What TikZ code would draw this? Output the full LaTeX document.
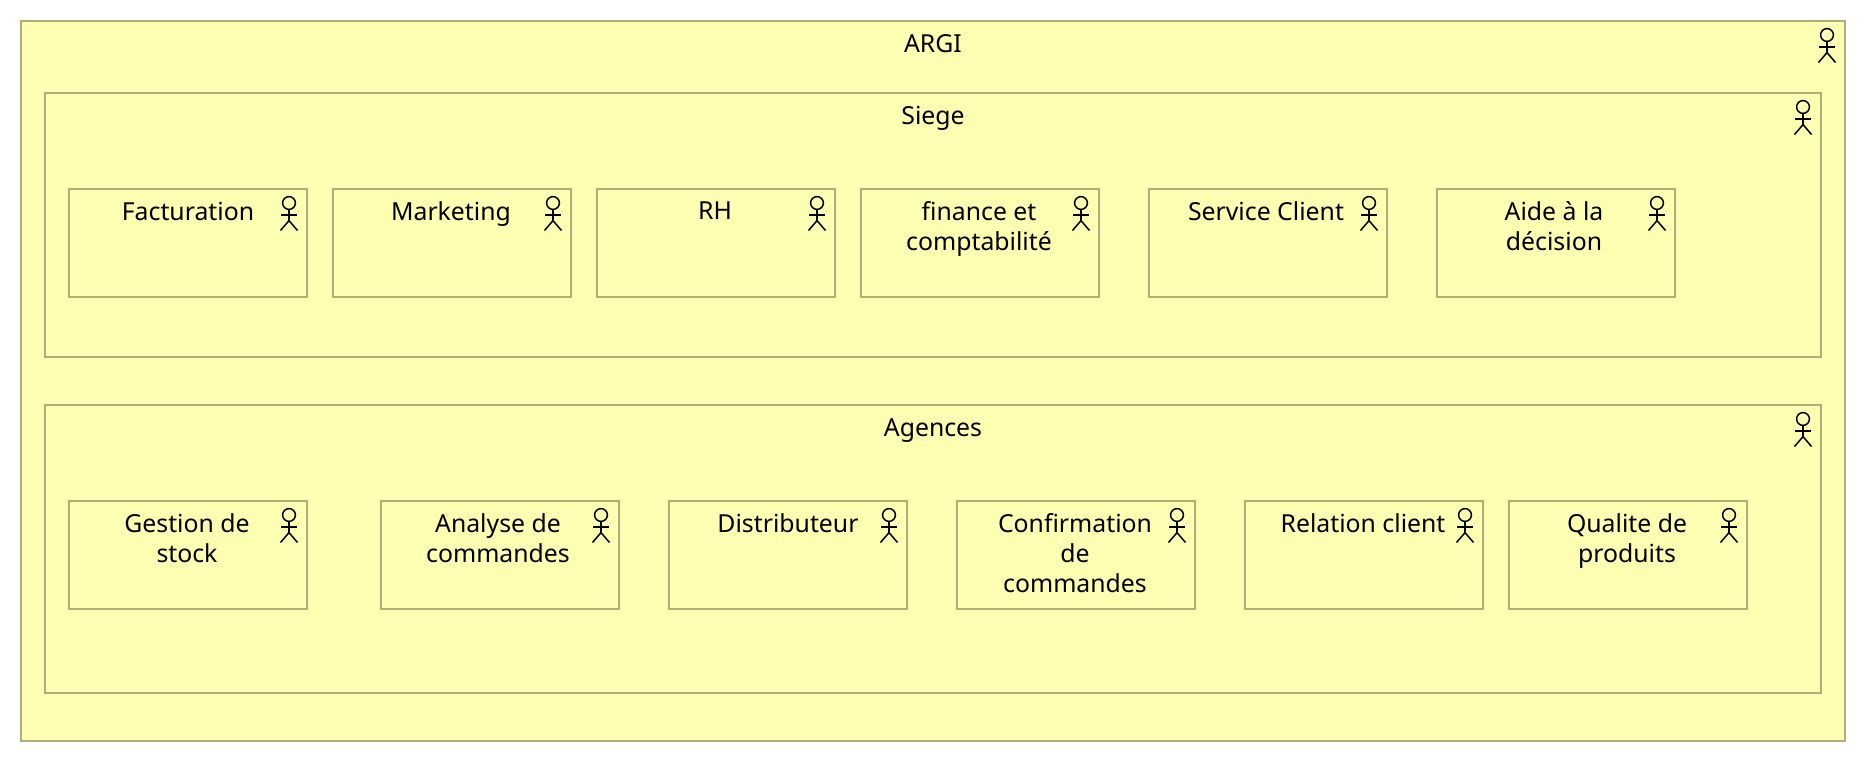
\documentclass[tikz,border=0pt]{standalone}
\usepackage{fontspec}
\setmainfont{Noto Sans}
\definecolor{boxfill}{HTML}{FEFEB2}
\definecolor{boxline}{HTML}{AEAE75}
\newcommand{\actor}[2]{%
  \begin{scope}[shift={(#1,#2)},black,line width=1.5pt,fill=none]
    \draw (0,0) circle (6.4);
    \draw (0,6.4) -- (0,17.6);
    \draw (-8,12) -- (8,12);
    \draw (-8.5,27.5) -- (0,17.6) -- (8.5,27.5);
  \end{scope}}
\newcommand{\abox}[5]{% name x y w h
  \node[abox,minimum width=#4pt,minimum height=#5pt,anchor=north west] (#1) at (#2,#3) {};
  \actor{#2+#4-18}{#3+14}
}
\tikzset{
  abox/.style={draw=boxline,fill=boxfill,line width=2.4pt,inner sep=0pt,outer sep=0pt,rectangle},
  lbl/.style={inner sep=0pt,outer sep=0pt,align=center,anchor=north,text=black,font=\fontsize{24.8pt}{30pt}\selectfont}
}
\begin{document}
\begin{tikzpicture}[x=1pt,y=-1pt]
\useasboundingbox (0,0) rectangle (1866,762);
\abox{argi}{21}{21}{1824}{720}
\abox{siege}{45}{93}{1776}{264}
\abox{agences}{45}{405}{1776}{288}
\abox{fact}{69}{189}{238}{108}
\abox{mark}{333}{189}{238}{108}
\abox{rh}{597}{189}{238}{108}
\abox{fin}{861}{189}{238}{108}
\abox{serv}{1149}{189}{238}{108}
\abox{aide}{1437}{189}{238}{108}
\abox{gest}{69}{501}{238}{108}
\abox{ana}{381}{501}{238}{108}
\abox{dist}{669}{501}{238}{108}
\abox{conf}{957}{501}{238}{108}
\abox{rel}{1245}{501}{238}{108}
\abox{qual}{1509}{501}{238}{108}
\node[lbl] (targi) at (933,35) {ARGI};
\node[lbl] (tsiege) at (933,106) {Siege};
\node[lbl] (tagences) at (933,419) {Agences};
\node[lbl] (tfact) at (188,202) {Facturation};
\node[lbl] (tmark) at (451,202) {Marketing};
\node[lbl] (trh) at (715,202) {RH};
\node[lbl] (tfin) at (979,202) {finance et\\comptabilité};
\node[lbl] (tserv) at (1266,202) {Service Client};
\node[lbl] (taide) at (1554,202) {Aide à la\\décision};
\node[lbl] (tgest) at (187,514) {Gestion de\\stock};
\node[lbl] (tana) at (498,514) {Analyse de\\commandes};
\node[lbl] (tdist) at (788,514) {Distributeur};
\node[lbl] (tconf) at (1075,514) {Confirmation\\de\\commandes};
\node[lbl] (trel) at (1363,514) {Relation client};
\node[lbl] (tqual) at (1627,514) {Qualite de\\produits};
\end{tikzpicture}
\end{document}
